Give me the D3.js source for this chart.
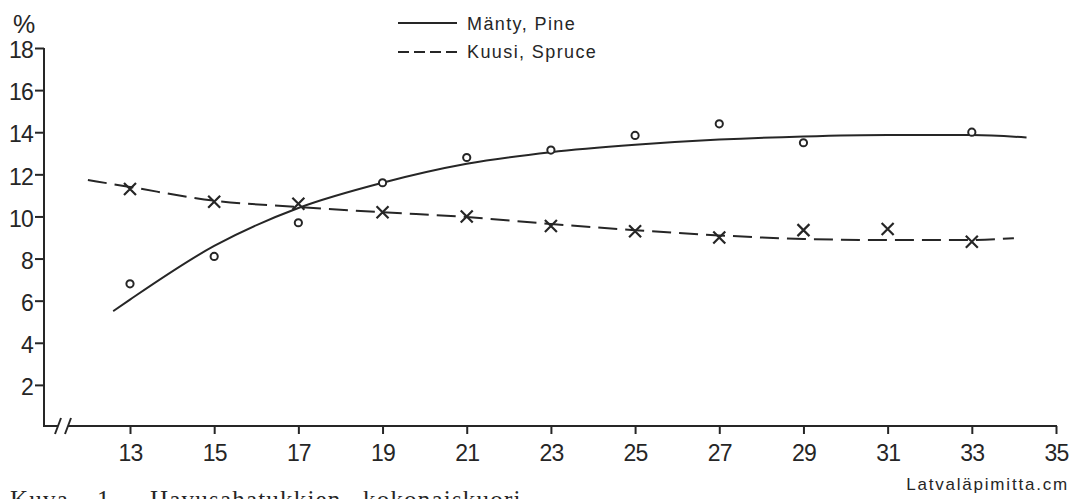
<!DOCTYPE html>
<html>
<head>
<meta charset="utf-8">
<script src="https://cdn.jsdelivr.net/npm/d3@7"></script>
<style>
  body { margin: 0; background: #fff; }
  svg { display: block; }
  text { fill: #262626; font-family: "Liberation Sans", Arial, sans-serif; }
</style>
</head>
<body>
<div class="chart"></div>
<script>
// measured points (latvaläpimitta cm)
const diameters = [13, 15, 17, 19, 21, 23, 25, 27, 29, 31, 33];
const pineObs   = [6.8, 8.1, 9.7, 11.6, 12.8, 13.15, 13.85, 14.4, 13.5, null, 14.0];
const spruceObs = [11.3, 10.7, 10.6, 10.2, 10.0, 9.55, 9.3, 9.0, 9.35, 9.4, 8.8];

// fitted curves
const pineFitX   = [12.6, 13, 15, 17, 19, 21, 23, 25, 27, 29, 31, 33, 34.3];
const pineFitY   = [5.5, 6.05, 8.6, 10.4, 11.6, 12.5, 13.05, 13.4, 13.65, 13.8, 13.87, 13.87, 13.75];
const spruceFitX = [12, 13, 15, 17, 19, 21, 23, 25, 27, 29, 31, 33, 34];
const spruceFitY = [11.73, 11.4, 10.75, 10.45, 10.2, 9.97, 9.64, 9.35, 9.1, 8.93, 8.88, 8.88, 8.97];

const yTicks = [2, 4, 6, 8, 10, 12, 14, 16, 18];
const xTicks = [13, 15, 17, 19, 21, 23, 25, 27, 29, 31, 33, 35];

const legendLabels = ["Mänty, Pine", "Kuusi, Spruce"];
const xTitle = "Latvaläpimitta.cm";
const captionWords = ["Kuva", "1.", "Havusahatukkien", "kokonaiskuori"];

const ink = "#262626";
let width = 1085, height = 499;

let svg = d3.select(".chart").append("svg")
            .attr("width", width)
            .attr("height", height);

let xScale = d3.scaleLinear().domain([13, 35]).range([130, 1056]);
let yScale = d3.scaleLinear().domain([0, 18]).range([427, 48]);

let axisX0 = 44, axisY0 = 426;

// y axis
let yAxis = d3.axisLeft(yScale).tickValues(yTicks).tickSize(9).tickPadding(2);
let gy = svg.append("g")
            .attr("transform", "translate(" + axisX0 + ",0)")
            .call(yAxis);
gy.select(".domain").remove();
gy.selectAll("line").attr("stroke", ink).attr("stroke-width", 2);
gy.selectAll("text")
  .attr("dy", "0.42em")
  .style("font-size", "23px")
  .style("letter-spacing", "-0.8px")
  .style("font-family", "'Liberation Sans', Arial, sans-serif")
  .attr("fill", ink);

// x axis
let xAxis = d3.axisBottom(xScale).tickValues(xTicks).tickSize(8).tickPadding(11);
let gx = svg.append("g")
            .attr("transform", "translate(0," + axisY0 + ")")
            .call(xAxis);
gx.select(".domain").remove();
gx.selectAll("line").attr("stroke", ink).attr("stroke-width", 2);
gx.selectAll("text")
  .style("font-size", "23px")
  .style("letter-spacing", "-0.8px")
  .style("font-family", "'Liberation Sans', Arial, sans-serif")
  .attr("fill", ink);

// axis lines with the break
svg.append("line")
   .attr("x1", axisX0).attr("y1", yScale(18))
   .attr("x2", axisX0).attr("y2", axisY0 + 1)
   .attr("stroke", ink).attr("stroke-width", 2);
svg.append("line")
   .attr("x1", axisX0 - 1).attr("y1", axisY0)
   .attr("x2", 58).attr("y2", axisY0)
   .attr("stroke", ink).attr("stroke-width", 2);
svg.append("line")
   .attr("x1", 68).attr("y1", axisY0)
   .attr("x2", xScale(35) + 1).attr("y2", axisY0)
   .attr("stroke", ink).attr("stroke-width", 2);
[58, 68].forEach(function(bx) {
    svg.append("line")
       .attr("x1", bx - 3).attr("y1", axisY0 + 8)
       .attr("x2", bx + 3).attr("y2", axisY0 - 8)
       .attr("stroke", ink).attr("stroke-width", 2);
});

svg.append("text")
   .attr("x", 13).attr("y", 33)
   .style("font-size", "25px")
   .text("%");

// fitted lines
let line = d3.line()
             .x(d => xScale(d[0]))
             .y(d => yScale(d[1]))
             .curve(d3.curveMonotoneX);

svg.append("path")
   .datum(pineFitX.map((x, i) => [x, pineFitY[i]]))
   .attr("d", line)
   .attr("fill", "none")
   .attr("stroke", ink)
   .attr("stroke-width", 2);

svg.append("path")
   .datum(spruceFitX.map((x, i) => [x, spruceFitY[i]]))
   .attr("d", line)
   .attr("fill", "none")
   .attr("stroke", ink)
   .attr("stroke-width", 2)
   .attr("stroke-dasharray", "19,8");

// observed pine: circles
let pinePts = diameters.map((x, i) => [x, pineObs[i]]).filter(d => d[1] != null);
svg.selectAll(".pine")
   .data(pinePts)
   .enter()
   .append("circle")
   .attr("class", "pine")
   .attr("cx", d => xScale(d[0]))
   .attr("cy", d => yScale(d[1]))
   .attr("r", 3.6)
   .attr("fill", "#fff")
   .attr("stroke", ink)
   .attr("stroke-width", 2);

// observed spruce: crosses
let sprucePts = diameters.map((x, i) => [x, spruceObs[i]]);
let s = 6;
svg.selectAll(".spruce")
   .data(sprucePts)
   .enter()
   .append("path")
   .attr("class", "spruce")
   .attr("d", function(d) {
       let cx = xScale(d[0]), cy = yScale(d[1]);
       return "M" + (cx - s) + "," + (cy - s) + "L" + (cx + s) + "," + (cy + s) +
              "M" + (cx - s) + "," + (cy + s) + "L" + (cx + s) + "," + (cy - s);
   })
   .attr("fill", "none")
   .attr("stroke", ink)
   .attr("stroke-width", 2.2);

// legend
let legend = svg.append("g");
legend.append("line")
      .attr("x1", 398).attr("y1", 23).attr("x2", 457).attr("y2", 23)
      .attr("stroke", ink).attr("stroke-width", 2);
legend.append("line")
      .attr("x1", 398).attr("y1", 52).attr("x2", 458).attr("y2", 52)
      .attr("stroke", ink).attr("stroke-width", 2)
      .attr("stroke-dasharray", "11,5");
legend.selectAll("text")
      .data(legendLabels)
      .enter()
      .append("text")
      .attr("x", 467)
      .attr("y", (d, i) => 30 + i * 28)
      .style("font-size", "18px")
      .style("letter-spacing", "1.4px")
      .text(d => d);

svg.append("text")
   .attr("x", 1069).attr("y", 490)
   .attr("text-anchor", "end")
   .style("font-size", "17px")
   .style("letter-spacing", "1.8px")
   .text(xTitle);

// figure caption, cut by the lower edge as in the scan
let capX = [10, 97, 150, 363];
svg.append("g")
   .selectAll("text")
   .data(captionWords)
   .enter()
   .append("text")
   .attr("x", (d, i) => capX[i])
   .attr("y", 508)
   .style("font-family", "'Liberation Serif', 'DejaVu Serif', serif")
   .style("font-size", "25px")
   .style("letter-spacing", "1.2px")
   .text(d => d);
</script>
</body>
</html>
